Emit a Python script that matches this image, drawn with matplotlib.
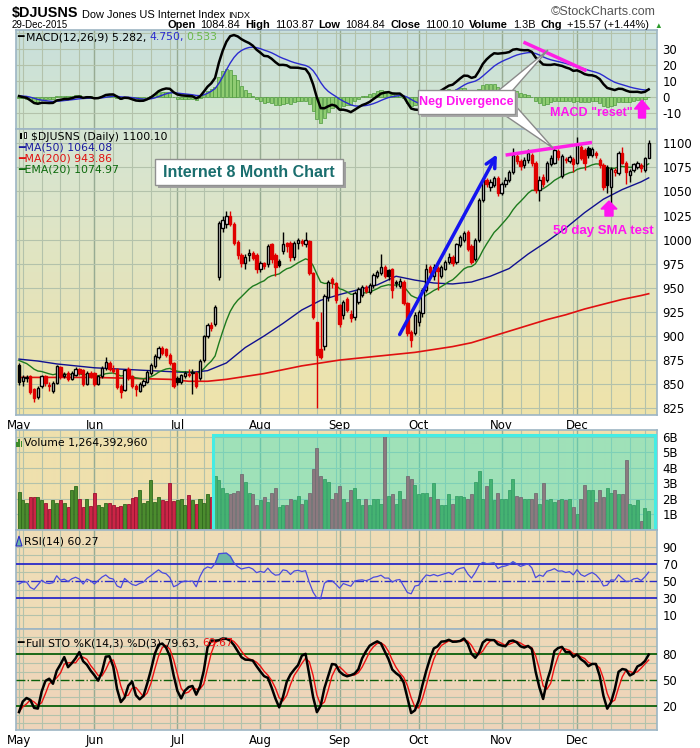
import numpy as np
import pandas as pd
import matplotlib
matplotlib.use("Agg")
import matplotlib.pyplot as plt
from matplotlib import font_manager
from matplotlib.colors import to_rgb
from matplotlib.patches import Rectangle, Polygon, FancyArrow

plt.rcParams['font.family'] = ['DejaVu Sans']

# ---- data ----
holidays = ["2015-05-25", "2015-07-03", "2015-09-07", "2015-11-26", "2015-12-25"]
dates = pd.bdate_range("2015-05-01", "2015-12-29")
dates = dates[~dates.isin(pd.to_datetime(holidays))]

opens = [870, 853, 856, 858, 845, 837, 848, 858, 848, 843, 851, 868, 858, 862, 855, 860, 866, 865, 850, 862,
         862, 850, 858, 867, 872, 866, 866, 848, 844, 866, 858, 848, 843, 849, 852, 862, 869, 878, 888, 886, 880, 872,
         856, 852, 858, 860, 862, 862, 856, 875, 900, 911, 912, 961, 1012, 1016, 1024, 1016, 998, 984, 976, 984, 986, 984,
         970, 976, 975, 995, 984, 978, 988, 996, 997, 982, 996, 999, 995, 999, 965, 915, 886, 890, 940, 959, 955,
         932, 922, 938, 923, 920, 935, 943, 951, 946, 953, 962, 965, 972, 968, 969, 955, 952, 956, 934, 904, 903,
         914, 924, 948, 972, 962, 971, 962, 970, 977, 982, 977, 994, 1000, 1008, 993, 980, 1000, 1041, 1062, 1055, 1057, 1064,
         1048, 1058, 1062, 1070, 1087, 1082, 1077, 1083, 1088, 1080, 1051, 1065, 1062, 1078, 1080, 1092, 1066, 1083, 1082, 1084,
         1080, 1096, 1093, 1095, 1088, 1090, 1083, 1077, 1075, 1055, 1070, 1069, 1090, 1080, 1067, 1072, 1075, 1077, 1072, 1084.84]
closes = [852, 857, 857, 842, 836, 846, 858, 851, 849, 851, 869, 858, 861, 855, 862, 866, 862, 850, 862, 858,
          850, 858, 867, 873, 866, 864, 847, 842, 865, 856, 848, 845, 850, 853, 863, 870, 879, 888, 882, 880, 872, 848,
          852, 859, 862, 861, 862, 848, 874, 900, 911, 908, 930, 1017, 1020, 1024, 1016, 996, 984, 976, 982, 986, 981, 970,
          976, 973, 993, 980, 972, 974, 995, 993, 982, 997, 1000, 997, 1000, 965, 920, 880, 878, 941, 956, 955, 937,
          912, 935, 927, 919, 945, 949, 951, 947, 953, 963, 966, 972, 962, 962, 948, 955, 957, 934, 903, 896, 922,
          925, 948, 969, 966, 972, 967, 972, 977, 982, 976, 995, 1003, 1007, 990, 977, 1000, 1041, 1062, 1058, 1060, 1064, 1048,
          1058, 1062, 1070, 1088, 1082, 1076, 1083, 1090, 1080, 1051, 1062, 1058, 1080, 1085, 1093, 1086, 1087, 1083, 1086, 1078,
          1098, 1085, 1080, 1088, 1094, 1088, 1077, 1055, 1057, 1073, 1072, 1090, 1080, 1070, 1071, 1078, 1080, 1074, 1084.53, 1100.10]
highs = [872, 860, 859, 860, 846, 848, 860, 859, 852, 853, 870, 869, 863, 864, 864, 868, 867, 866, 864, 864,
         863, 860, 869, 878, 874, 870, 867, 850, 866, 868, 860, 850, 852, 855, 865, 872, 881, 890, 890, 888, 882, 873,
         858, 861, 864, 866, 866, 864, 876, 901, 913, 914, 932, 1019, 1024, 1030, 1030, 1018, 1000, 986, 985, 990, 988, 986,
         978, 977, 995, 997, 986, 980, 1008, 998, 999, 999, 1002, 1001, 1008, 1000, 966, 915, 925, 944, 958, 961, 956,
         933, 937, 940, 927, 947, 951, 953, 953, 955, 965, 968, 985, 974, 970, 971, 958, 960, 958, 935, 906, 925,
         927, 950, 975, 974, 975, 973, 974, 979, 986, 984, 997, 1005, 1009, 1010, 995, 1002, 1043, 1064, 1064, 1063, 1066, 1066,
         1060, 1065, 1072, 1095, 1090, 1084, 1086, 1094, 1090, 1082, 1066, 1068, 1082, 1088, 1095, 1094, 1089, 1086, 1088, 1086,
         1107, 1098, 1095, 1097, 1096, 1092, 1085, 1079, 1077, 1075, 1074, 1092, 1096, 1082, 1073, 1080, 1082, 1079, 1086, 1103.87]
lows = [849, 848, 852, 840, 832, 835, 846, 848, 843, 841, 850, 855, 856, 853, 854, 858, 860, 848, 849, 856,
        848, 849, 856, 865, 864, 862, 845, 836, 843, 854, 846, 838, 842, 847, 851, 860, 867, 876, 880, 878, 870, 846,
        849, 850, 856, 857, 840, 846, 854, 873, 898, 905, 910, 958, 1008, 1012, 1014, 994, 980, 972, 970, 978, 979, 965,
        966, 970, 972, 976, 962, 972, 985, 987, 978, 979, 990, 993, 992, 963, 918, 825, 876, 885, 936, 950, 934,
        909, 918, 925, 915, 917, 933, 940, 945, 944, 950, 960, 963, 960, 958, 939, 951, 950, 932, 900, 889, 901,
        910, 920, 946, 963, 958, 948, 960, 968, 975, 973, 975, 992, 998, 988, 975, 978, 998, 1039, 1055, 1050, 1055, 1045,
        1046, 1055, 1060, 1068, 1078, 1072, 1074, 1080, 1076, 1048, 1040, 1055, 1060, 1076, 1078, 1083, 1064, 1080, 1080, 1070,
        1078, 1083, 1072, 1085, 1086, 1085, 1074, 1052, 1048, 1036, 1066, 1067, 1078, 1058, 1060, 1070, 1073, 1070, 1070, 1084.84]

# volume in billions
volume = [2.45, 1.9, 1.75, 2.1, 2.1, 2.1, 1.95, 1.75, 1.35, 1.9, 1.75, 1.95, 1.75, 1.45, 2.6, 2.8, 2.0, 1.45, 2.0, 1.55,
          2.4, 1.6, 1.5, 1.75, 1.75, 1.6, 1.5, 1.55, 1.65, 1.7, 2.05, 2.1, 2.6, 1.75, 1.85, 3.2, 1.8, 2.1, 1.95, 1.85, 3.0, 1.85,
          1.95, 2.0, 1.6, 2.25, 1.95, 1.65, 2.0, 1.75, 2.3, 2.1,
          3.5, 3.2, 2.7, 2.4, 2.3, 2.4, 2.5, 3.6, 3.1, 2.4,
          2.3, 1.6, 1.9, 2.1, 1.8, 2.4, 2.7, 1.5, 1.6, 1.6,
          2.0, 1.9, 2.2, 1.7, 1.9, 2.4, 3.9, 5.3, 3.5, 3.3,
          3.1, 2.0, 2.4, 2.8, 2.0, 1.8, 2.6, 2.7, 2.0, 1.6,
          2.0, 1.6, 2.0, 2.0, 1.7, 6.1, 2.2, 2.3, 1.7, 2.5,
          2.0, 3.5, 3.3, 2.9, 2.3, 2.4, 2.4, 2.1, 3.0, 2.0,
          1.6, 1.6, 2.3, 1.7, 2.2, 2.2, 2.1, 2.0, 2.3, 3.1,
          3.8, 2.0, 2.8, 3.3, 1.9, 2.4, 2.0, 2.0, 2.6, 3.3,
          2.2, 2.1, 2.0, 2.0, 2.0, 2.4, 1.7, 3.0, 1.9, 2.0,
          1.8, 1.9, 2.0, 1.9, 2.0, 1.5, 1.0, 2.0, 2.9, 2.6,
          2.6, 1.8, 2.6, 2.1, 2.7, 2.4, 2.6, 2.3, 2.3, 4.5,
          1.7, 1.6, 1.9, 0.6, 1.4, 1.2]

ma50_day = [0, 5, 10, 15, 20, 25, 30, 35, 40, 45, 50, 55, 60, 65, 70, 75, 80, 85, 90, 95,
            100, 105, 110, 115, 120, 125, 130, 135, 140, 145, 150, 155, 160, 165, 167]
ma50 = [876, 874, 871, 869, 867, 866, 865, 864, 863, 862, 864, 872, 888, 900, 913, 927, 937, 943, 948, 953,
        962, 958, 955, 954, 956, 962, 970, 985, 998, 1012, 1028, 1042, 1052, 1060, 1064.08]
ma200_day = [0, 10, 20, 30, 40, 45, 50, 55, 60, 65, 70, 75, 80, 85, 90, 95, 100, 105, 110, 115,
             120, 125, 130, 135, 140, 145, 150, 155, 160, 165, 167]
ma200 = [857, 857, 857, 856, 855, 853, 853, 855, 858, 861, 865, 869, 872, 875, 877, 879, 881, 883, 886, 889,
         893, 899, 905, 911, 917, 922, 928, 933, 938, 942, 943.86]

# indicator warm-up state before 1 May (read from the first values shown)
ema20_seed = 877
ema12_seed, ema26_seed, signal_seed = 866, 864, 1.0
rsi_gain_seed, rsi_loss_seed = 4.0, 4.6

month_names = ["May", "Jun", "Jul", "Aug", "Sep", "Oct", "Nov", "Dec"]

# ---- indicators ----
n = len(closes)
x = np.arange(n)
o = np.array(opens, float); c = np.array(closes, float)
h = np.array(highs, float); l = np.array(lows, float)
vol = np.array(volume, float)


def ema(vals, seed, span):
    a = 2.0 / (span + 1)
    out = []
    e = seed
    for v in vals:
        e = e + (v - e) * a
        out.append(e)
    return np.array(out)


ema20 = ema(c, ema20_seed, 20)
macd = ema(c, ema12_seed, 12) - ema(c, ema26_seed, 26)
signal = ema(macd, signal_seed, 9)
hist = macd - signal

rsi = []
ag, al = rsi_gain_seed, rsi_loss_seed
prev = None
for v in c:
    if prev is not None:
        d = v - prev
        ag = (ag * 13 + max(d, 0)) / 14
        al = (al * 13 + max(-d, 0)) / 14
    rsi.append(100 * ag / (ag + al))
    prev = v
rsi = np.array(rsi)

cs = pd.Series(c)
hh = pd.Series(h).rolling(14, min_periods=1).max()
ll = pd.Series(l).rolling(14, min_periods=1).min()
fastk = 100 * (cs - ll) / (hh - ll)
stok = fastk.rolling(3, min_periods=1).mean().values
stod = pd.Series(stok).rolling(3, min_periods=1).mean().values

# ---- figure / panels ----
W, H = 700, 748
fig = plt.figure(figsize=(7, 7.48), dpi=100)
fig.patch.set_facecolor("white")
PL, PR = 16, 657


def panel(top, bottom):
    return fig.add_axes([PL / W, 1 - bottom / H, (PR - PL) / W, (bottom - top) / H])


def grad(ax, ctop, cbot):
    t = np.array(to_rgb(ctop)); b = np.array(to_rgb(cbot))
    g = np.linspace(0, 1, 200)[:, None, None]
    img = t[None, None, :] * (1 - g) + b[None, None, :] * g
    ax.imshow(img, extent=(0, 1, 0, 1), transform=ax.transAxes, aspect="auto", zorder=-10)


week_start = [i for i in range(n) if i == 0 or dates[i].weekday() <= dates[i - 1].weekday()]
month_start = [i for i in range(n) if i == 0 or dates[i].month != dates[i - 1].month]


def style(ax, ylim, yticks, ylabels, hgrid):
    ax.set_xlim(-0.8, 169.2)
    ax.set_ylim(*ylim)
    for wi in week_start:
        ax.axvline(wi, color="#b3c2ab", lw=0.8, zorder=0)
    for mi in month_start[1:]:
        ax.axvline(mi, color="#97ab93", lw=1.0, zorder=0)
    for g in hgrid:
        ax.axhline(g, color="#b3c2ab", lw=0.8, zorder=0)
    ax.yaxis.tick_right()
    ax.set_yticks(yticks)
    ax.set_yticklabels(ylabels, fontsize=8.5)
    ax.tick_params(axis="y", length=0, pad=4)
    ax.set_xticks([])
    for s in ax.spines.values():
        s.set_color("#9db5c4")
        s.set_linewidth(1.2)


# MACD panel
axm = panel(30, 129)
grad(axm, "#c8dedc", "#d5e8cf")
axm.bar(x, hist, width=0.85, color="#8fcc72", edgecolor="#4d9a3c", linewidth=0.5, zorder=2)
axm.plot(x, signal, color="#2b2bd0", lw=1.0, zorder=3)
axm.plot(x, macd, color="black", lw=1.8, zorder=4)
style(axm, (-19.8, 42), [-10, 0, 10, 20, 30], ["-10", "0", "10", "20", "30"], [-10, 0, 10, 20, 30, 40])

# price panel
axp = panel(129, 415)
grad(axp, "#d5e5d4", "#efe3aa")
axp.plot(ma200_day, ma200, color="#e01010", lw=1.2, zorder=2)
axp.plot(ma50_day, ma50, color="#101090", lw=1.0, zorder=2)
axp.plot(x, ema20, color="#1d7a1d", lw=1.0, zorder=2)
prev_c = np.concatenate([[c[0]], c[:-1]])
cols = np.where(c >= prev_c, "black", "#e00000")
axp.vlines(x, l, h, colors=cols, lw=1.0, zorder=3)
body_lo = np.minimum(o, c)
body_h = np.maximum(np.abs(c - o), 0.9)
faces = np.where(c < o, cols, "white")
axp.bar(x, body_h, bottom=body_lo, width=0.62, color=faces, edgecolor=cols, linewidth=1.0, zorder=4)
pt = list(range(825, 1101, 25))
style(axp, (818, 1114.8), pt, [str(v) for v in pt], pt)
axp.set_xticks(month_start)
axp.set_xticklabels(month_names, fontsize=8.5)
axp.tick_params(axis="x", length=0, pad=3)

# blue trend arrow and magenta lines
axp.annotate("", xy=(127.1, 1091), xytext=(100.6, 899),
             arrowprops=dict(arrowstyle="->,head_length=0.7,head_width=0.35", color="#1414f0", lw=2.5), zorder=6)
axp.plot([129.5, 151.5], [1088, 1100.6], color="#ff1ee6", lw=2.5, zorder=6)
axm.plot([134.2, 150.1], [34, 17], color="#ff1ee6", lw=2.5, zorder=6)

# volume panel
axv = panel(430, 530)
grad(axv, "#efe0ad", "#efe0ae")
vcol = np.where(c >= prev_c, "#4b8c2e", "#cc2446")
vedge = np.where(c >= prev_c, "#2f6a1c", "#9a1030")
axv.bar(x, vol, width=0.8, color=vcol, edgecolor=vedge, linewidth=0.6, zorder=2)
axv.add_patch(Rectangle((51.5, 0), 169.2 - 51.5 - 0.3, 6.1, facecolor="#3fe3c6", alpha=0.45,
                        edgecolor="none", zorder=3))
axv.add_patch(Rectangle((51.5, 0.02), 169.2 - 51.5 - 0.5, 6.08, facecolor="none",
                        edgecolor="#45ece4", lw=2.2, zorder=4))
style(axv, (0, 6.43), [1, 2, 3, 4, 5, 6], ["1B", "2B", "3B", "4B", "5B", "6B"], [1, 2, 3, 4, 5, 6])

# RSI panel
axr = panel(530, 629)
grad(axr, "#efdcb6", "#efdcb8")
axr.fill_between(x, rsi, 70, where=rsi > 70, interpolate=True, color="#6cb7a6", zorder=2)
axr.fill_between(x, rsi, 30, where=rsi < 30, interpolate=True, color="#6cb7a6", zorder=2)
axr.axhline(70, color="#2a2ac8", lw=1.3, zorder=3)
axr.axhline(30, color="#2a2ac8", lw=1.3, zorder=3)
axr.axhline(50, color="#2a2ac8", lw=1.0, ls="-.", zorder=3)
axr.plot(x, rsi, color="#4a4ae0", lw=0.9, zorder=4)
style(axr, (-6, 109.5), [10, 30, 50, 70, 90], ["10", "30", "50", "70", "90"], [10, 20, 40, 60, 80, 90])

# STO panel
axs = panel(629, 730)
grad(axs, "#eed9b8", "#efd4bb")
axs.axhline(80, color="#0b600b", lw=1.3, zorder=3)
axs.axhline(20, color="#0b600b", lw=1.3, zorder=3)
axs.axhline(50, color="#0b600b", lw=1.0, ls="-.", zorder=3)
axs.plot(x, stod, color="#ee1111", lw=1.0, zorder=4)
axs.plot(x, stok, color="black", lw=1.8, zorder=5)
style(axs, (-7.7, 109.2), [20, 50, 80], ["20", "50", "80"], [0, 10, 30, 40, 60, 70, 90, 100])
axs.set_xticks(month_start)
axs.set_xticklabels(month_names, fontsize=8.5)
axs.tick_params(axis="x", length=0, pad=3)

# ---- overlay for header, legends, callouts (pixel coords) ----
ov = fig.add_axes([0, 0, 1, 1])
ov.set_xlim(0, W); ov.set_ylim(H, 0)
ov.axis("off")
ov.patch.set_alpha(0)

names = {f.name for f in font_manager.fontManager.ttflist}
has_narrow = "Liberation Sans Narrow" in names
head = ["Liberation Sans", "DejaVu Sans"]
narrow = ["Liberation Sans Narrow", "DejaVu Sans"] if has_narrow else head
k = 1.0 if has_narrow else 0.83


def chain(x0, y0, parts, gap=3):
    # parts: (text, colour, weight, size, family)
    txt, col, wt, sz, fam = parts[0]
    t = ov.text(x0, y0, txt, color=col, weight=wt, fontsize=sz, family=fam, va="center", ha="left")
    for txt, col, wt, sz, fam in parts[1:]:
        t = ov.annotate(txt, xy=(1, 0), xycoords=t, xytext=(gap, 0), textcoords="offset points",
                        va="bottom", ha="left", color=col, weight=wt, fontsize=sz, family=fam)
    return t


chain(12, 13, [("$DJUSNS", "black", "bold", 12.5 * k, narrow),
               ("Dow Jones US Internet Index", "black", "normal", 9.6 * k, narrow),
               ("INDX", "black", "normal", 8.0 * k, narrow)], gap=2.5)
ov.text(656, 12, "\u00a9StockCharts.com", fontsize=9, family=head, color="#555555", ha="right", va="center")
ov.text(12, 25, "29-Dec-2015", fontsize=8.5 * k, family=narrow, va="center")

hs = 9.6 * k
bold_parts = [("Open", "1084.84"), ("High", "1103.87"), ("Low", "1084.84"), ("Close", "1100.10"),
              ("Volume", "1.3B"), ("Chg", "+15.57 (+1.44%)")]
parts = []
for lab, val in bold_parts:
    parts.append((lab, "black", "bold", hs, narrow))
    parts.append((val, "black", "normal", hs, narrow))
parts.append(("\u25b2", "#2a9a2a", "normal", hs * 0.7, head))
chain(167, 25, parts, gap=3.6)

lg = 7.8
dj = "DejaVu Sans"
chain(17, 37, [("\u2501", "black", "normal", lg, dj), ("MACD(12,26,9) 5.282,", "black", "normal", lg, dj),
               ("4.750,", "#2b2bd0", "normal", lg, dj), ("0.533", "#6ab84a", "normal", lg, dj)], gap=2)
ov.text(31, 136.5, "$DJUSNS (Daily) 1100.10", fontsize=lg, va="center")
ov.add_patch(Rectangle((20, 133), 2, 6, facecolor="black"))
ov.add_patch(Rectangle((24, 132), 2, 6, facecolor="white", edgecolor="black", lw=0.6))
ov.text(18, 147.5, "\u2501MA(50) 1064.08", fontsize=lg, color="#1a1aa0", va="center")
ov.text(18, 158.5, "\u2501MA(200) 943.86", fontsize=lg, color="#e01010", va="center")
ov.text(18, 169, "\u2501EMA(20) 1074.97", fontsize=lg, color="#0d6a0d", va="center")
ov.text(24, 443, "Volume 1,264,392,960", fontsize=lg, va="center")
for j, hgt in enumerate([5, 8, 6]):
    ov.add_patch(Rectangle((16 + 2.3 * j, 447 - hgt), 1.8, hgt, facecolor="#3c8a2a"))
ov.text(24, 541, "RSI(14) 60.27", fontsize=lg, va="center")
ov.add_patch(Polygon([(16, 546), (19, 536), (22, 546)], closed=True, facecolor="#6cb7a6", edgecolor="#2a2ac8", lw=0.8))
chain(17, 643, [("\u2501", "black", "normal", lg, dj), ("Full STO %K(14,3) %D(3) 79.63,", "black", "normal", lg, dj),
                ("69.67", "#ee1111", "normal", lg, dj)], gap=2)

# "Internet 8 Month Chart" box
ov.add_patch(Rectangle((158, 162), 188, 26, facecolor="#a0a0a0", edgecolor="none", zorder=5))
ov.add_patch(Rectangle((155, 159), 188, 26, facecolor="white", edgecolor="#909090", lw=1, zorder=6))
ov.text(249, 172.5, "Internet 8 Month Chart", fontsize=11.5, weight="bold", color="#1a6e6e",
        ha="center", va="center", family=head, zorder=7)

# Neg Divergence callout
mag = "#ff14f0"
ov.add_patch(Polygon([(498, 91), (512, 91), (548, 50)], closed=True, facecolor="white",
                     edgecolor="#8a8a8a", lw=1, zorder=5))
ov.add_patch(Polygon([(500, 112), (513, 103), (553, 148)], closed=True, facecolor="white",
                     edgecolor="#8a8a8a", lw=1, zorder=5))
ov.add_patch(Rectangle((421, 93), 97, 24, facecolor="#a8a8a8", edgecolor="none", zorder=5))
ov.add_patch(Rectangle((418, 90), 97, 24, facecolor="white", edgecolor="#909090", lw=1, zorder=6))
ov.text(466.5, 102, "Neg Divergence", fontsize=9, weight="bold", color=mag, ha="center", va="center",
        family=head, zorder=7)

ov.text(591, 112.5, "MACD \"reset\"", fontsize=9, weight="bold", color=mag, ha="center", va="center",
        family=head, zorder=7)
ov.add_patch(FancyArrow(642, 118, 0, -18, width=7, head_width=15, head_length=9, length_includes_head=True,
                        color=mag, zorder=7))
ov.text(603, 231, "50 day SMA test", fontsize=9.5, weight="bold", color=mag, ha="center", va="center",
        family=head, zorder=7)
ov.add_patch(FancyArrow(609, 216, 0, -15, width=8, head_width=16, head_length=8, length_includes_head=True,
                        color=mag, zorder=7))

fig.savefig("out.png", dpi=100)
